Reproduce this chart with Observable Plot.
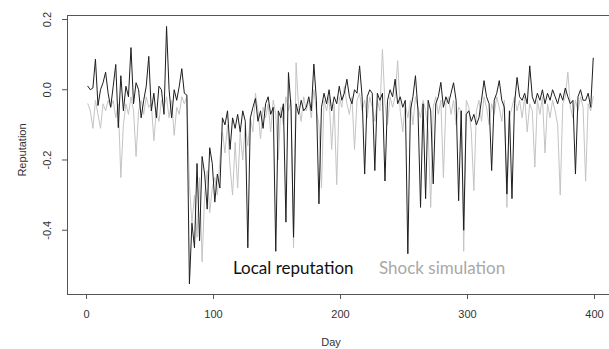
<!DOCTYPE html>
<html>
<head>
<meta charset="utf-8">
<script src="https://cdn.jsdelivr.net/npm/d3@7"></script>
<script src="https://cdn.jsdelivr.net/npm/@observablehq/plot@0.6"></script>
<style>
  html, body { margin: 0; padding: 0; background: #fff; }
  #wrap { position: relative; width: 609px; height: 349px; overflow: hidden; }
  .lbl { position: absolute; font-family: "Liberation Sans", Arial, sans-serif; font-size: 11px; color: #333; white-space: nowrap; }
  .leg { position: absolute; font-family: Lato, "Open Sans", sans-serif; font-size: 17px; white-space: nowrap; }
</style>
</head>
<body>
<div id="wrap"></div>
<script>
// Days sampled every second day (1, 3, 5, ..., 399)
const days = d3.range(1, 400, 2);

// Local reputation (dark line)
const localReputation = [
  0.010, 0.000, 0.005, 0.087, -0.045, 0.000, 0.020, 0.050, -0.010, -0.050,
  0.010, 0.072, -0.108, 0.040, -0.060, 0.010, -0.020, 0.120, -0.040, 0.020,
  0.000, -0.080, -0.030, 0.010, 0.095, -0.060, -0.010, -0.080, 0.010, 0.000,
  -0.070, 0.180, 0.000, -0.080, 0.000, -0.030, 0.010, 0.060, -0.010, -0.015,
  -0.553, -0.380, -0.450, -0.210, -0.430, -0.190, -0.240, -0.340, -0.165, -0.210,
  -0.320, -0.240, -0.280, -0.080, -0.100, -0.060, -0.170, -0.080, -0.110, -0.070,
  -0.120, -0.060, -0.090, -0.450, -0.080, -0.050, -0.025, -0.090, -0.060, -0.110,
  -0.040, -0.020, -0.070, -0.050, -0.460, -0.060, -0.080, -0.040, -0.377, 0.049,
  -0.050, -0.420, -0.040, -0.070, -0.030, -0.060, -0.050, -0.020, -0.060, 0.073,
  -0.030, -0.325, -0.050, -0.010, -0.040, 0.000, -0.060, -0.020, -0.040, 0.010,
  -0.030, -0.010, 0.030, -0.020, -0.040, 0.000, -0.010, 0.068, -0.020, -0.240,
  -0.020, 0.000, -0.010, -0.230, -0.010, -0.030, -0.010, -0.260, -0.030, 0.000,
  -0.020, 0.030, -0.040, -0.020, -0.050, -0.030, -0.467, -0.060, -0.020, 0.040,
  -0.060, -0.335, -0.040, -0.310, -0.030, -0.060, -0.268, -0.040, -0.020, 0.021,
  -0.050, -0.020, -0.040, -0.010, 0.020, -0.030, -0.316, -0.060, -0.400, -0.070,
  -0.060, -0.090, -0.070, -0.100, -0.080, -0.030, 0.026, -0.020, -0.040, -0.230,
  -0.030, -0.010, 0.026, -0.030, -0.050, -0.297, -0.060, -0.310, -0.040, 0.035,
  -0.020, -0.030, -0.010, -0.040, 0.068, -0.020, -0.040, -0.010, -0.030, 0.000,
  -0.040, -0.010, -0.030, 0.000, -0.020, -0.040, -0.010, -0.030, 0.005, -0.020,
  -0.040, -0.030, -0.240, -0.020, 0.000, -0.030, -0.030, -0.010, -0.050, 0.090
];

// Shock simulation (light line)
const shockSimulation = [
  -0.040, -0.060, -0.110, -0.030, -0.070, -0.110, -0.040, -0.060, -0.030, -0.050,
  -0.030, -0.080, -0.040, -0.250, -0.100, -0.040, -0.070, -0.020, -0.060, -0.190,
  -0.060, -0.030, -0.070, -0.020, -0.050, -0.040, -0.145, -0.060, -0.090, -0.030,
  -0.050, -0.020, -0.080, -0.030, -0.130, -0.050, -0.070, -0.020, -0.040, -0.020,
  -0.270, -0.380, -0.300, -0.420, -0.250, -0.490, -0.300, -0.230, -0.350, -0.280,
  -0.250, -0.300, -0.200, -0.120, -0.180, -0.100, -0.220, -0.300, -0.150, -0.280,
  -0.120, -0.200, -0.100, -0.160, -0.080, -0.120, -0.010, -0.060, -0.140, -0.050,
  -0.080, -0.040, -0.120, -0.030, -0.070, -0.200, -0.050, -0.100, -0.020, -0.060,
  -0.030, -0.450, 0.077, -0.050, -0.090, -0.020, -0.060, -0.030, -0.080, 0.000,
  -0.060, -0.100, -0.280, -0.030, -0.060, -0.020, -0.170, -0.040, -0.270, -0.020,
  -0.050, 0.010, -0.040, -0.070, -0.020, -0.170, -0.030, -0.010, -0.060, -0.030,
  -0.080, -0.020, -0.050, -0.090, -0.030, -0.060, 0.115, -0.040, -0.100, -0.020,
  -0.050, -0.020, 0.083, -0.060, -0.120, -0.040, -0.080, -0.030, -0.100, -0.020,
  -0.050, -0.080, -0.030, -0.060, -0.120, -0.335, -0.050, -0.020, -0.070, -0.030,
  -0.250, -0.040, -0.020, -0.070, -0.030, -0.100, -0.050, -0.060, -0.460, -0.030,
  -0.050, -0.120, -0.287, -0.060, -0.030, -0.090, -0.020, -0.050, -0.100, -0.040,
  -0.070, -0.020, -0.050, -0.090, -0.030, -0.335, -0.080, -0.050, -0.020, -0.060,
  -0.030, -0.080, -0.020, -0.120, -0.040, -0.060, -0.220, -0.030, -0.070, -0.020,
  -0.180, -0.040, -0.080, -0.030, -0.060, -0.100, -0.300, -0.040, -0.020, 0.050,
  -0.050, -0.080, -0.030, -0.060, -0.020, -0.050, -0.260, -0.040, -0.060, -0.020
];

const xTicks = [0, 100, 200, 300, 400];
const yTicks = [-0.4, -0.2, 0.0, 0.2];
const seriesNames = ["Local reputation", "Shock simulation"];

const localRows = days.map((d, i) => ({day: d, value: localReputation[i]}));
const shockRows = days.map((d, i) => ({day: d, value: shockSimulation[i]}));

const chart = Plot.plot({
  width: 609,
  height: 349,
  marginLeft: 67,
  marginRight: 0,
  marginTop: 15,
  marginBottom: 55,
  style: {fontFamily: "Liberation Sans, Arial, sans-serif", fontSize: "11px", color: "#333", background: "#fff"},
  x: {domain: [-15, 411.8]},
  y: {domain: [-0.583, 0.2114]},
  marks: [
    Plot.frame({stroke: "#555"}),
    Plot.lineY(shockRows, {x: "day", y: "value", stroke: "#c4c4c4", strokeWidth: 1}),
    Plot.lineY(localRows, {x: "day", y: "value", stroke: "#1e1e1e", strokeWidth: 1}),
    Plot.axisX({ticks: xTicks, tickSize: 5, tickPadding: 11, label: null, stroke: "#555", fill: "#333"}),
    Plot.axisY({ticks: yTicks, tickSize: 5, tickPadding: 12, tickRotate: -90, label: null,
      tickFormat: d => d.toFixed(1), stroke: "#555", fill: "#333"})
  ]
});

const wrap = document.getElementById("wrap");
wrap.appendChild(chart);

function addLabel(text, cls, style) {
  const el = document.createElement("div");
  el.className = cls;
  el.textContent = text;
  Object.assign(el.style, style);
  wrap.appendChild(el);
  return el;
}
addLabel("Day", "lbl", {left: "331px", top: "342px", transform: "translate(-50%,-50%)"});
addLabel("Reputation", "lbl", {left: "22px", top: "150px", transform: "translate(-50%,-50%) rotate(-90deg)"});
addLabel(seriesNames[0], "leg", {left: "233px", top: "257px", color: "#111"});
addLabel(seriesNames[1], "leg", {left: "379px", top: "257px", color: "#a8a8a8"});
</script>
</body>
</html>
